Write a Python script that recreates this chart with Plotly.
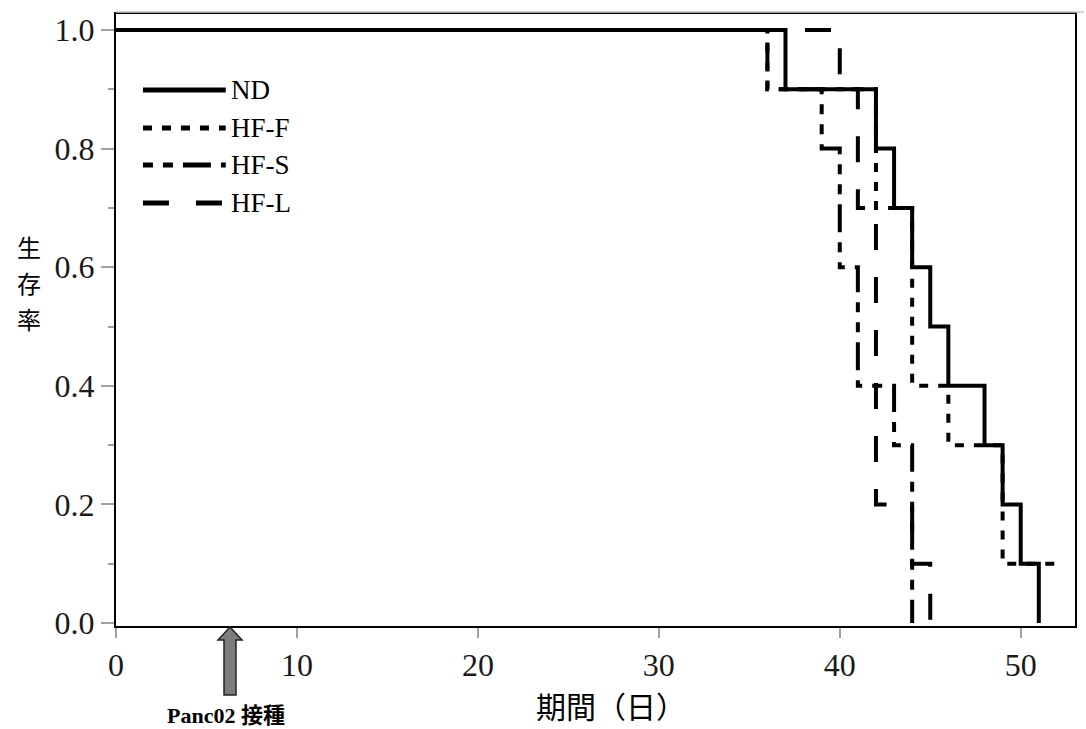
import plotly.graph_objects as go

# ---- data (Kaplan-Meier step points: day, survival after that day) ----
nd_days = [0, 37, 42, 43, 44, 45, 46, 48, 49, 50, 51]
nd_surv = [1.0, 0.9, 0.8, 0.7, 0.6, 0.5, 0.4, 0.3, 0.2, 0.1, 0.0]

hff_days = [0, 36, 42, 44, 46, 49, 52]
hff_surv = [1.0, 0.9, 0.7, 0.4, 0.3, 0.1, 0.1]

hfs_days = [0, 36, 39, 40, 41, 43, 44]
hfs_surv = [1.0, 0.9, 0.8, 0.6, 0.4, 0.3, 0.0]

hfl_days = [0, 40, 41, 42, 44, 45]
hfl_surv = [1.0, 0.9, 0.7, 0.2, 0.1, 0.0]

series_names = ["ND", "HF-F", "HF-S", "HF-L"]
x_ticks = [0, 10, 20, 30, 40, 50]
y_ticks = [0.0, 0.2, 0.4, 0.6, 0.8, 1.0]
inoculation_day = 6.3
y_title_chars = ["生", "存", "率"]

# ---- styling ----
W, H = 1086, 729
L, R, T, B = 116, 9, 14, 103
PW, PH = W - L - R, H - T - B
dashes = {
    "ND": "solid",
    "HF-F": "9px,10px",
    "HF-S": "10px,10px,10px,10px,28px,10px",
    "HF-L": "26px,27px",
}
LW = 4


def px(xp):
    return (xp - L) / PW


def py(yp):
    return (H - B - yp) / PH


fig = go.Figure()
data = {
    "HF-L": (hfl_days, hfl_surv),
    "HF-S": (hfs_days, hfs_surv),
    "HF-F": (hff_days, hff_surv),
    "ND": (nd_days, nd_surv),
}
for name, (xs, ys) in data.items():
    fig.add_trace(go.Scatter(
        x=xs, y=ys, mode="lines", name=name, line_shape="hv",
        line=dict(color="black", width=LW, dash=dashes[name]),
        showlegend=False,
    ))

shapes = []
annotations = []

# manual legend
leg_y = [90, 128, 165, 203]
for name, yp in zip(series_names, leg_y):
    shapes.append(dict(type="line", xref="paper", yref="paper",
                       x0=px(143), x1=px(226), y0=py(yp), y1=py(yp),
                       line=dict(color="black", width=5, dash=dashes[name])))
    annotations.append(dict(xref="paper", yref="paper", x=px(229), y=py(yp),
                            xanchor="left", yanchor="middle", showarrow=False,
                            text=name,
                            font=dict(family="Liberation Serif", size=27, color="black")))

# faint top line
shapes.append(dict(type="line", xref="paper", yref="paper",
                   x0=px(116), x1=px(1086), y0=py(12), y1=py(12),
                   line=dict(color="#c8c8c8", width=1.5)))

# block arrow for inoculation
ax = L + inoculation_day * (PW / 53.0)
pts = [(ax, 627), (ax + 12, 640), (ax + 6, 640), (ax + 6, 695), (ax - 6, 695),
       (ax - 6, 640), (ax - 12, 640)]
path = "M " + " L ".join(f"{px(a):.5f},{py(b):.5f}" for a, b in pts) + " Z"
shapes.append(dict(type="path", xref="paper", yref="paper", path=path,
                   fillcolor="#7d7d7d", line=dict(color="#222222", width=1.5)))

annotations.append(dict(xref="paper", yref="paper", x=px(226), y=py(715),
                        xanchor="center", yanchor="middle", showarrow=False,
                        text="<b>Panc02 接種</b>",
                        font=dict(family="Liberation Serif, Noto Sans CJK JP", size=22, color="black")))

# axis titles
annotations.append(dict(xref="paper", yref="paper", x=px(612), y=py(705),
                        xanchor="center", yanchor="middle", showarrow=False,
                        text="期間（日）",
                        font=dict(family="Noto Sans CJK JP", size=30, color="black")))
for i, ch in enumerate(y_title_chars):
    annotations.append(dict(xref="paper", yref="paper", x=px(29), y=py(246 + 36 * i),
                            xanchor="center", yanchor="middle", showarrow=False,
                            text=ch,
                            font=dict(family="Noto Sans CJK JP", size=24, color="black")))

fig.update_layout(
    width=W, height=H,
    margin=dict(l=L, r=R, t=T, b=B),
    paper_bgcolor="white", plot_bgcolor="white",
    shapes=shapes, annotations=annotations,
    showlegend=False,
)
fig.update_xaxes(
    range=[0, 53], tickvals=x_ticks, ticktext=[str(v) for v in x_ticks],
    showgrid=False, zeroline=False,
    showline=True, mirror=True, linecolor="black", linewidth=2,
    ticks="outside", ticklen=10, tickwidth=2, tickcolor="#a0a0a0",
    tickfont=dict(family="Liberation Serif", size=32, color="#1a1a1a"),
)
fig.update_yaxes(
    range=[-0.005, 1.027], tickvals=y_ticks, ticktext=[f"{v:.1f}" for v in y_ticks],
    showgrid=False, zeroline=False,
    showline=True, mirror=True, linecolor="black", linewidth=2,
    ticks="outside", ticklen=13, tickwidth=2, tickcolor="#a0a0a0",
    minor=dict(dtick=0.1, tick0=0, ticks="outside", ticklen=6, tickwidth=2, tickcolor="#a0a0a0"),
    tickfont=dict(family="Liberation Serif", size=32, color="#1a1a1a"),
)

fig.write_html("out.html")
